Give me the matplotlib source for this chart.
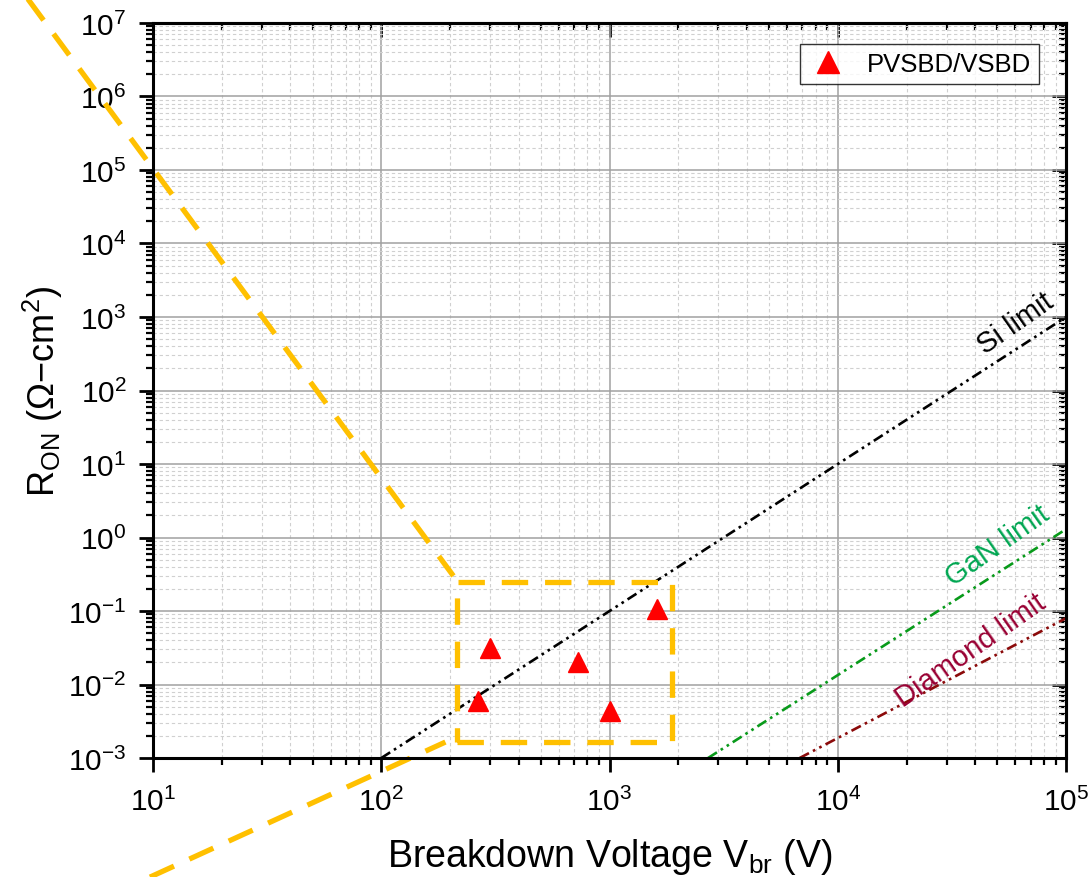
import matplotlib
matplotlib.use("Agg")
import matplotlib.pyplot as plt
from matplotlib.ticker import LogLocator, NullFormatter

plt.rcParams['font.family'] = ['Liberation Sans', 'DejaVu Sans']
plt.rcParams['mathtext.fontset'] = 'custom'
plt.rcParams['mathtext.rm'] = 'Liberation Sans'
plt.rcParams['mathtext.it'] = 'Liberation Sans:italic'
plt.rcParams['mathtext.default'] = 'regular'
plt.rcParams['axes.unicode_minus'] = False

# measured devices
vbr = [300, 724, 266, 1000, 1607]
ron = [0.031, 0.020, 0.0060, 0.0044, 0.106]

# material limit lines (end points)
si_v = [100, 1e5]
si_r = [1e-3, 1e3]
gan_v = [2700, 1e5]
gan_r = [1e-3, 1.3]
dia_v = [6800, 1e5]
dia_r = [1e-3, 0.08]

# zoom box and its guide lines
box_v = [215, 1870, 1870, 215, 215]
box_r = [1.65e-3, 1.65e-3, 0.25, 0.25, 1.65e-3]
guide_up_v = [2.83, 207]
guide_up_r = [2.12e7, 0.30]
guide_lo_v = [9.7, 191]
guide_lo_r = [2.4e-5, 1.65e-3]

fig = plt.figure(figsize=(10.89, 8.78), dpi=100)
ax = fig.add_axes([0.1405, 0.1355, 0.8385, 0.8372])
ax.set_xscale('log')
ax.set_yscale('log')
ax.set_xlim(10, 1e5)
ax.set_ylim(1e-3, 1e7)

ax.grid(True, which='major', color='#a0a0a0', lw=1.1, ls='-')
ax.grid(True, which='minor', color='#d0d0d0', lw=0.8, ls=(0, (3, 2.5)))
ax.set_axisbelow(True)

ddot = (0, (4, 1.7, 1, 1.7, 1, 1.7))
ax.plot(si_v, si_r, color='black', lw=1.9, ls=ddot)
ax.plot(gan_v, gan_r, color='#089a1a', lw=1.9, ls=ddot)
ax.plot(dia_v, dia_r, color='#8b0a0a', lw=1.9, ls=ddot)

gold = '#ffc000'
ax.plot(box_v, box_r, color=gold, lw=3.8, ls=(0, (5, 3.2)), clip_on=False)
ax.plot(guide_up_v, guide_up_r, color=gold, lw=3.8, ls=(0, (5, 3.2)), clip_on=False)
ax.plot(guide_lo_v, guide_lo_r, color=gold, lw=3.8, ls=(0, (5, 3.2)), clip_on=False)

ax.plot(vbr, ron, ls='none', marker='^', ms=14, color='#ff0000',
        mec='#ff0000', label='PVSBD/VSBD', zorder=5)

ax.text(6.0e4, 830, 'Si limit', rotation=35, ha='center', va='center',
        rotation_mode='anchor', fontsize=21, color='black')
ax.text(5.0e4, 0.79, 'GaN limit', rotation=35, ha='center', va='center',
        rotation_mode='anchor', fontsize=21, color='#00a651')
ax.text(3.83e4, 0.0295, 'Diamond limit', rotation=35, ha='center', va='center',
        rotation_mode='anchor', fontsize=21, color='#990033')

leg = ax.legend(loc='upper right', bbox_to_anchor=(0.970, 0.971),
                borderaxespad=0, fontsize=18.5, frameon=True, fancybox=False,
                handlelength=1.6, handletextpad=0.7, borderpad=0.3,
                markerscale=1.1)
leg.get_frame().set_edgecolor('black')
leg.get_frame().set_linewidth(1.0)

for s in ax.spines.values():
    s.set_linewidth(2.2)

ax.xaxis.set_major_locator(LogLocator(base=10, numticks=20))
ax.xaxis.set_minor_locator(LogLocator(base=10, subs=range(2, 10), numticks=20))
ax.yaxis.set_major_locator(LogLocator(base=10, numticks=20))
ax.yaxis.set_minor_locator(LogLocator(base=10, subs=range(2, 10), numticks=20))
ax.xaxis.set_minor_formatter(NullFormatter())
ax.yaxis.set_minor_formatter(NullFormatter())
ax.tick_params(which='major', direction='out', length=10, width=2, labelsize=21.5)
ax.tick_params(axis='x', which='major', pad=11)
ax.tick_params(axis='y', which='major', pad=9)
ax.tick_params(which='minor', direction='out', length=5, width=1.6)

# inward ticks on top and right
top = ax.secondary_xaxis('top')
right = ax.secondary_yaxis('right')
for sec in (top, right):
    sec.tick_params(which='major', direction='in', length=10, width=2,
                    labeltop=False, labelright=False)
    sec.tick_params(which='minor', direction='in', length=5, width=1.6)
    for s in sec.spines.values():
        s.set_linewidth(2.2)
top.xaxis.set_major_locator(LogLocator(base=10, numticks=20))
top.xaxis.set_minor_locator(LogLocator(base=10, subs=range(2, 10), numticks=20))
top.xaxis.set_minor_formatter(NullFormatter())
right.yaxis.set_major_locator(LogLocator(base=10, numticks=20))
right.yaxis.set_minor_locator(LogLocator(base=10, subs=range(2, 10), numticks=20))
right.yaxis.set_minor_formatter(NullFormatter())

ax.set_xlabel('Breakdown Voltage V$_{br}$ (V)', fontsize=27, labelpad=14)
ax.set_ylabel('R$_{ON}$ (Ω−cm$^{2}$)', fontsize=26, labelpad=2)

fig.savefig('out.png', dpi=100)
